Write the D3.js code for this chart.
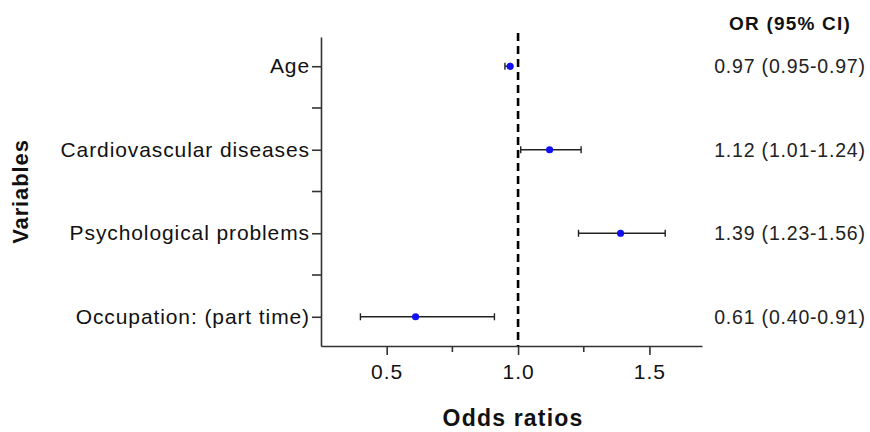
<!DOCTYPE html>
<html>
<head>
<meta charset="utf-8">
<script src="https://cdn.jsdelivr.net/npm/d3@7"></script>
<style>
  body { margin: 0; background: #fff; }
  text { font-family: "Liberation Sans", Arial, sans-serif; }
</style>
</head>
<body>
<div id="wrapper"></div>
<script>
// data
const variables = [
  "Age",
  "Cardiovascular diseases",
  "Psychological problems",
  "Occupation: (part time)",
]
const oddsRatios = [0.97, 1.12, 1.39, 0.61]
const ciLower = [0.95, 1.01, 1.23, 0.40]
const ciUpper = [0.97, 1.24, 1.56, 0.91]
const xTicks = [0.5, 1.0, 1.5]
const xMinorTicks = [0.75, 1.25]

function drawForest() {
  const dataset = variables.map((v, i) => ({
    name: v,
    or: oddsRatios[i],
    lo: ciLower[i],
    hi: ciUpper[i],
  }))

  let dimensions = {
    width: 870,
    height: 432,
    margin: { top: 37, right: 168, bottom: 86, left: 321 },
  }
  dimensions.boundedWidth = dimensions.width - dimensions.margin.left - dimensions.margin.right
  dimensions.boundedHeight = dimensions.height - dimensions.margin.top - dimensions.margin.bottom

  const wrapper = d3.select("#wrapper")
    .append("svg")
      .attr("width", dimensions.width)
      .attr("height", dimensions.height)

  const bounds = wrapper.append("g")
      .attr("transform", `translate(${dimensions.margin.left},${dimensions.margin.top})`)

  // scales
  const xScale = d3.scaleLinear()
    .domain([0.25, 1.7])
    .range([0, dimensions.boundedWidth])

  const yScale = d3.scalePoint()
    .domain(variables)
    .range([0, dimensions.boundedHeight])
    .padding(0.35)

  const step = yScale.step()
  const yMinor = variables.slice(1).map(v => yScale(v) - step / 2)

  const axisColor = "#333"

  // x axis
  const xAxis = bounds.append("g")
      .attr("transform", `translate(0,${dimensions.boundedHeight})`)
      .call(d3.axisBottom(xScale)
        .tickValues(xTicks)
        .tickFormat(d3.format(".1f"))
        .tickSize(9)
        .tickSizeOuter(0)
        .tickPadding(9))
  xAxis.select(".domain").attr("stroke", axisColor).attr("stroke-width", 1.6)
  xAxis.selectAll(".tick line").attr("stroke", axisColor).attr("stroke-width", 1.6)
  xAxis.selectAll(".tick text")
      .attr("fill", "#111")
      .style("font-size", "21px")
      .style("letter-spacing", "1px")
  xAxis.selectAll(".minor")
    .data(xMinorTicks)
    .join("line")
      .attr("class", "minor")
      .attr("x1", d => xScale(d))
      .attr("x2", d => xScale(d))
      .attr("y1", 0)
      .attr("y2", 6)
      .attr("stroke", axisColor)
      .attr("stroke-width", 1.6)

  // y axis
  const yAxis = bounds.append("g")
      .call(d3.axisLeft(yScale)
        .tickSize(9)
        .tickSizeOuter(0)
        .tickPadding(2))
  yAxis.select(".domain").attr("stroke", axisColor).attr("stroke-width", 1.6)
  yAxis.selectAll(".tick line").attr("stroke", axisColor).attr("stroke-width", 1.6)
  yAxis.selectAll(".tick text")
      .attr("fill", "#111")
      .style("font-size", "21px")
      .style("letter-spacing", "0.9px")
  yAxis.selectAll(".minor")
    .data(yMinor)
    .join("line")
      .attr("class", "minor")
      .attr("x1", -9)
      .attr("x2", 0)
      .attr("y1", d => d)
      .attr("y2", d => d)
      .attr("stroke", axisColor)
      .attr("stroke-width", 1.6)

  // reference line at OR = 1
  bounds.append("line")
      .attr("x1", xScale(1))
      .attr("x2", xScale(1))
      .attr("y1", -4)
      .attr("y2", dimensions.boundedHeight)
      .attr("stroke", "#000")
      .attr("stroke-width", 2.6)
      .attr("stroke-dasharray", "8,5")

  // error bars
  const rows = bounds.append("g")
    .selectAll("g")
    .data(dataset)
    .join("g")
      .attr("transform", d => `translate(0,${yScale(d.name)})`)

  rows.append("line")
      .attr("x1", d => xScale(d.lo))
      .attr("x2", d => xScale(d.hi))
      .attr("stroke", "#222")
      .attr("stroke-width", 1.4)
  rows.selectAll(".cap")
    .data(d => [d.lo, d.hi])
    .join("line")
      .attr("class", "cap")
      .attr("x1", d => xScale(d))
      .attr("x2", d => xScale(d))
      .attr("y1", -3.5)
      .attr("y2", 3.5)
      .attr("stroke", "#222")
      .attr("stroke-width", 1.4)
  rows.append("circle")
      .attr("cx", d => xScale(d.or))
      .attr("r", 3.6)
      .attr("fill", "#1010f0")

  // OR (95% CI) column
  const colX = 790
  wrapper.append("text")
      .attr("x", colX)
      .attr("y", 30)
      .attr("text-anchor", "middle")
      .attr("fill", "#111")
      .style("font-size", "19px")
      .style("font-weight", "bold")
      .style("letter-spacing", "1.2px")
      .text("OR (95% CI)")

  const f = d3.format(".2f")
  wrapper.append("g")
    .selectAll("text")
    .data(dataset)
    .join("text")
      .attr("x", colX)
      .attr("y", d => dimensions.margin.top + yScale(d.name) + 7)
      .attr("text-anchor", "middle")
      .attr("fill", "#222")
      .style("font-size", "19.5px")
      .style("letter-spacing", "0.8px")
      .text(d => `${f(d.or)} (${f(d.lo)}-${f(d.hi)})`)

  // axis titles
  wrapper.append("text")
      .attr("x", dimensions.margin.left + xScale(1) - 5)
      .attr("y", 426)
      .attr("text-anchor", "middle")
      .attr("fill", "#111")
      .style("font-size", "23px")
      .style("font-weight", "bold")
      .style("letter-spacing", "1.2px")
      .text("Odds ratios")

  wrapper.append("text")
      .attr("transform", `translate(28,${dimensions.margin.top + dimensions.boundedHeight / 2}) rotate(-90)`)
      .attr("text-anchor", "middle")
      .attr("fill", "#111")
      .style("font-size", "22px")
      .style("font-weight", "bold")
      .style("letter-spacing", "0.9px")
      .text("Variables")
}
drawForest()
</script>
</body>
</html>
